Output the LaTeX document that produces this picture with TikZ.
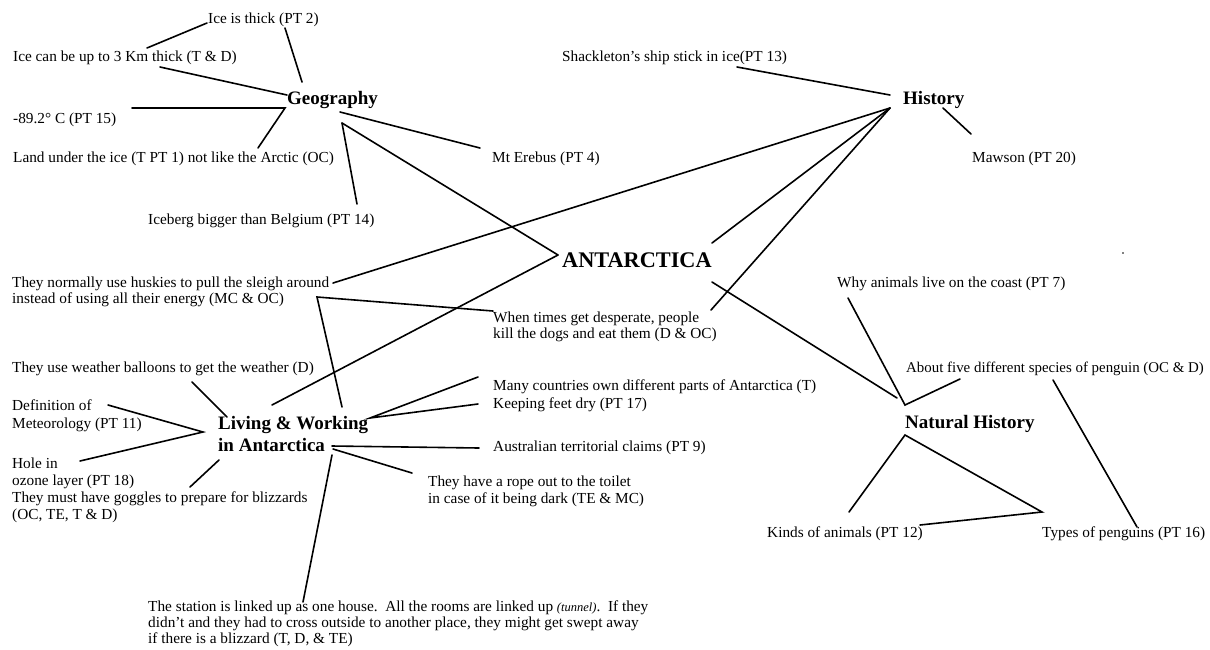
\documentclass[tikz,border=0pt]{standalone}
\usepackage{fontspec}
\setmainfont{Liberation Serif}
\begin{document}
\begin{tikzpicture}[x=1pt,y=-1pt,
  lbl/.style={font=\fontsize{15.3}{17}\selectfont, anchor=base west, inner sep=0pt},
  hd/.style={font=\fontsize{19}{21}\selectfont\bfseries, anchor=base west, inner sep=0pt},
  title/.style={font=\fontsize{22.3}{24}\selectfont\bfseries, anchor=base west, inner sep=0pt},
  link/.style={line width=1.6pt, line cap=round, line join=miter}]
\useasboundingbox (0,0) rectangle (1210,649);

% ---------- Geography ----------
\node[lbl] (icethick) at (208,23) {Ice is thick (PT 2)};
\node[lbl] (icekm) at (13,61) {Ice can be up to 3 Km thick (T \& D)};
\node[hd] (geo) at (287,104) {Geography};
\node[lbl] (temp) at (13,123) {-89.2° C (PT 15)};
\node[lbl] (land) at (13,162) {Land under the ice (T PT 1) not like the Arctic (OC)};
\node[lbl] (berg) at (148,224) {Iceberg bigger than Belgium (PT 14)};
\node[lbl] (erebus) at (492,162) {Mt Erebus (PT 4)};

% ---------- History ----------
\node[lbl] (shack) at (562,61) {Shackleton's ship stick in ice(PT 13)};
\node[hd] (hist) at (903,104) {History};
\node[lbl] (mawson) at (972,162) {Mawson (PT 20)};

% ---------- centre ----------
\node[title] (ant) at (562,267) {ANTARCTICA};

% ---------- Living & Working ----------
\node[lbl] (husk1) at (12,287) {They normally use huskies to pull the sleigh around};
\node[lbl] (husk2) at (12,303) {instead of using all their energy (MC \& OC)};
\node[lbl] (dogs1) at (493,322) {When times get desperate, people};
\node[lbl] (dogs2) at (493,338) {kill the dogs and eat them (D \& OC)};
\node[lbl] (balloon) at (12,372) {They use weather balloons to get the weather (D)};
\node[lbl] (defn1) at (12,410) {Definition of};
\node[lbl] (defn2) at (12,428) {Meteorology (PT 11)};
\node[hd] (lw1) at (218,429) {Living \& Working};
\node[hd] (lw2) at (218,451) {in Antarctica};
\node[lbl] (hole1) at (12,468) {Hole in};
\node[lbl] (hole2) at (12,485) {ozone layer (PT 18)};
\node[lbl] (gog1) at (12,502) {They must have goggles to prepare for blizzards};
\node[lbl] (gog2) at (12,519) {(OC, TE, T \& D)};
\node[lbl] (many) at (493,390) {Many countries own different parts of Antarctica (T)};
\node[lbl] (feet) at (493,408) {Keeping feet dry (PT 17)};
\node[lbl] (claims) at (493,451) {Australian territorial claims (PT 9)};
\node[lbl] (rope1) at (428,486) {They have a rope out to the toilet};
\node[lbl] (rope2) at (428,503) {in case of it being dark (TE \& MC)};
\node[lbl] (stn1) at (148,611) {The station is linked up as one house.\ \ All the rooms are linked up {\itshape\fontsize{12.5}{14}\selectfont(tunnel)}.\ \ If they};
\node[lbl] (stn2) at (148,627) {didn't and they had to cross outside to another place, they might get swept away};
\node[lbl] (stn3) at (148,643) {if there is a blizzard (T, D, \& TE)};

% ---------- Natural History ----------
\node[lbl] (why) at (837,287) {Why animals live on the coast (PT 7)};
\node[lbl, font=\fontsize{14.9}{17}\selectfont] (five) at (906,372) {About five different species of penguin (OC \& D)};
\node[hd] (nh) at (905,428) {Natural History};
\node[lbl] (kinds) at (767,537) {Kinds of animals (PT 12)};
\node[lbl] (types) at (1042,537) {Types of penguins (PT 16)};

% ---------- connector ends ----------
\coordinate (icekmR) at (147,48);   \coordinate (icethickL) at (207,23);
\coordinate (icethickB) at (285,28); \coordinate (geoN) at (302,82);
\coordinate (icekmB) at (160,67);   \coordinate (geoNW) at (287,95);
\coordinate (tempR) at (132,108);   \coordinate (geoW) at (285,108);
\coordinate (landT) at (258,148);
\coordinate (geoS) at (342,123);    \coordinate (bergT) at (357,204);
\coordinate (geoE) at (340,112);    \coordinate (erebusL) at (480,148);
\coordinate (antW) at (558,255);
\coordinate (shackR) at (737,67);   \coordinate (histWu) at (890,95);
\coordinate (histW) at (890,108);
\coordinate (histS) at (943,108);   \coordinate (mawsonT) at (971,134);
\coordinate (huskR) at (333,283);
\coordinate (antNE) at (712,243);   \coordinate (dogsR) at (711,310);
\coordinate (antSE) at (712,282);
\coordinate (nhNW) at (897,398);    \coordinate (nhN) at (905,405);
\coordinate (whyB) at (848,298);    \coordinate (fiveL) at (960,379);
\coordinate (nhS) at (905,435);     \coordinate (kindsT) at (849,512);
\coordinate (kindsR) at (920,525);  \coordinate (typesL) at (1042,512);
\coordinate (fiveB) at (1053,380);  \coordinate (typesT) at (1137,527);
\coordinate (husk2R) at (317,297);  \coordinate (dogsL) at (493,311);
\coordinate (lwN) at (342,407);     \coordinate (lwNW) at (272,405);
\coordinate (balloonB) at (192,382); \coordinate (lwNWb) at (227,417);
\coordinate (defnR) at (108,405);   \coordinate (lwW) at (203,432);
\coordinate (holeR) at (80,461);
\coordinate (gogT) at (190,487);    \coordinate (lwSW) at (219,460);
\coordinate (lwE) at (370,418);     \coordinate (manyL) at (478,377);
\coordinate (feetL) at (478,404);
\coordinate (lwSE) at (332,446);    \coordinate (claimsL) at (479,448);
\coordinate (lwSEb) at (333,449);   \coordinate (ropeL) at (412,473);
\coordinate (lwS) at (332,455);     \coordinate (stnT) at (303,602);

% ---------- connectors ----------
\draw[link] (icekmR) -- (icethickL);
\draw[link] (icethickB) -- (geoN);
\draw[link] (icekmB) -- (geoNW);
\draw[link] (tempR) -- (geoW) -- (landT);
\draw[link] (geoS) -- (bergT);
\draw[link] (geoS) -- (antW);
\draw[link] (geoE) -- (erebusL);

\draw[link] (shackR) -- (histWu);
\draw[link] (histS) -- (mawsonT);
\draw[link] (huskR) -- (histW);
\draw[link] (antNE) -- (histW);
\draw[link] (dogsR) -- (histW);

\draw[link] (antSE) -- (nhNW);
\draw[link] (whyB) -- (nhN) -- (fiveL);
\draw[link] (kindsT) -- (nhS) -- (typesL) -- (kindsR);
\draw[link] (fiveB) -- (typesT);

\draw[link] (antW) -- (lwNW);
\draw[link] (dogsL) -- (husk2R) -- (lwN);
\draw[link] (balloonB) -- (lwNWb);
\draw[link] (defnR) -- (lwW) -- (holeR);
\draw[link] (gogT) -- (lwSW);
\draw[link] (manyL) -- (lwE) -- (feetL);
\draw[link] (lwSE) -- (claimsL);
\draw[link] (lwSEb) -- (ropeL);
\draw[link] (lwS) -- (stnT);

% stray ink mark
\fill (1123,253) circle (0.9);
\end{tikzpicture}
\end{document}
